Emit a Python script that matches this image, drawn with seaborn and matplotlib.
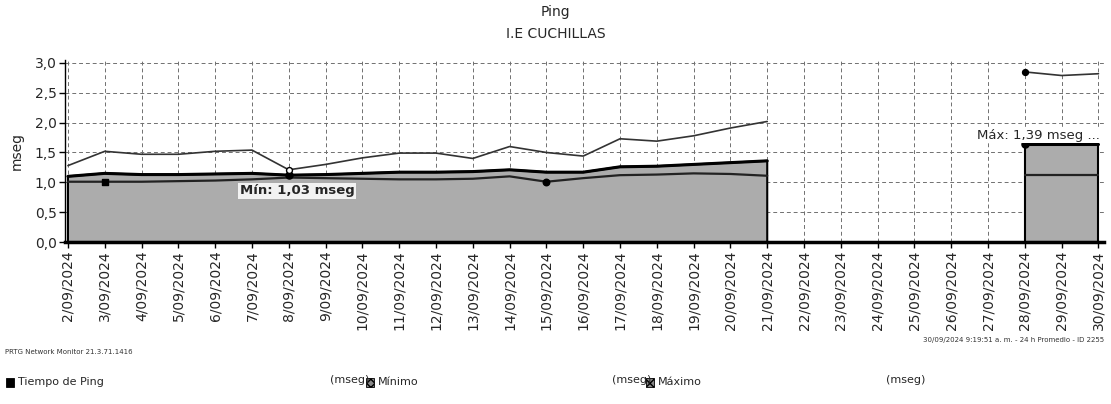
import matplotlib
matplotlib.use("Agg")
import matplotlib.pyplot as plt
from matplotlib.patches import Rectangle
import numpy as np
import pandas as pd
import seaborn as sns

# Data (PRTG "Ping" report, daily averages)
dates = [f"{d}/09/2024" for d in range(2, 31)]
nan = np.nan
maximo = [1.28, 1.52, 1.47, 1.47, 1.52, 1.54, 1.21, 1.30, 1.41, 1.49,
          1.49, 1.40, 1.60, 1.50, 1.44, 1.73, 1.69, 1.78, 1.91, 2.02,
          nan, nan, nan, nan, nan, nan, 2.85, 2.79, 2.82]
ping = [1.10, 1.15, 1.13, 1.13, 1.14, 1.15, 1.12, 1.13, 1.15, 1.17,
        1.17, 1.18, 1.21, 1.17, 1.17, 1.26, 1.27, 1.30, 1.33, 1.36,
        nan, nan, nan, nan, nan, nan, 1.64, 1.64, 1.64]
minimo = [1.01, 1.01, 1.01, 1.02, 1.03, 1.05, 1.08, 1.07, 1.06, 1.05,
          1.05, 1.06, 1.10, 1.01, 1.07, 1.12, 1.13, 1.15, 1.14, 1.11,
          nan, nan, nan, nan, nan, nan, 1.13, 1.13, 1.13]
segment = [0] * 20 + [1] * 6 + [2] * 3

y_ticks = [0.0, 0.5, 1.0, 1.5, 2.0, 2.5, 3.0]
min_label = "Mín: 1,03 mseg"
max_label = "Máx: 1,39 mseg ..."

df = pd.DataFrame({
    "x": np.arange(len(dates)),
    "maximo": maximo,
    "ping": ping,
    "minimo": minimo,
    "seg": segment,
}).dropna()

sns.set_theme(style="white")
plt.rcParams["font.family"] = ["DejaVu Sans"]

W, H = 1111, 404
fig = plt.figure(figsize=(W / 100, H / 100), dpi=100)
ax = fig.add_axes([65 / W, (H - 242) / H, (1104 - 65) / W, 182 / H])

# shaded "Tiempo de Ping" area with black outline
x_all = np.arange(len(dates))
ax.fill_between(x_all, 0, np.array(ping, dtype=float), facecolor="#acacac",
                edgecolor="black", linewidth=1.5, zorder=2)

sns.lineplot(data=df, x="x", y="ping", units="seg", estimator=None,
             color="black", linewidth=2.2, ax=ax, zorder=3)
sns.lineplot(data=df, x="x", y="minimo", units="seg", estimator=None,
             color="#222222", linewidth=1.6, ax=ax, zorder=3)
sns.lineplot(data=df, x="x", y="maximo", units="seg", estimator=None,
             color="#333333", linewidth=1.2, ax=ax, zorder=3)

# markers
ax.scatter([1], [minimo[1]], marker="s", s=14, color="black", zorder=4)
ax.scatter([13], [minimo[13]], marker="o", s=22, color="black", zorder=4)
ax.scatter([6], [ping[6]], marker="o", s=26, color="black", zorder=4)
ax.scatter([6], [maximo[6]], marker="o", s=18, facecolor="white",
           edgecolor="black", zorder=4)
ax.scatter([26], [ping[26]], marker="o", s=26, color="black", zorder=4)
ax.scatter([26], [maximo[26]], marker="o", s=18, color="black", zorder=4)

ax.text(4.67, 0.86, min_label, fontsize=9.5, fontweight="bold", va="center",
        ha="left", zorder=5,
        bbox=dict(facecolor="white", edgecolor="none", pad=1.0, alpha=0.85))
ax.text(24.7, 1.79, max_label, fontsize=9.5, va="center", ha="left",
        zorder=5, bbox=dict(facecolor="white", edgecolor="none", pad=1.0))

ax.set_xlim(-0.08, 28.15)
ax.set_ylim(0, 3.05)
ax.set_xticks(x_all)
ax.set_xticklabels(dates, rotation=90, fontsize=10)
ax.set_yticks(y_ticks)
ax.set_yticklabels([f"{v:.1f}".replace(".", ",") for v in y_ticks],
                   fontsize=10)
ax.tick_params(axis="both", length=4, width=1, color="black", pad=2,
               bottom=True, left=True)
ax.set_xlabel("")
ax.set_ylabel("mseg", fontsize=10, labelpad=8)

ax.grid(True, linestyle=(0, (4, 3)), color="#707070", linewidth=0.7)
ax.set_axisbelow(True)
for side in ["top", "right"]:
    ax.spines[side].set_visible(False)
ax.spines["left"].set_color("black")
ax.spines["left"].set_linewidth(1.0)
ax.spines["bottom"].set_color("black")
ax.spines["bottom"].set_linewidth(2.5)

# titles
fig.text(0.5, 1 - 12 / H, "Ping", ha="center", va="center", fontsize=10)
fig.text(0.5, 1 - 34 / H, "I.E CUCHILLAS", ha="center", va="center",
         fontsize=10)

# footer
fig.text(5 / W, 1 - 352 / H, "PRTG Network Monitor 21.3.71.1416",
         fontsize=5, va="center", color="#333333")
fig.text(1104 / W, 1 - 340 / H,
         "30/09/2024 9:19:51 a. m. - 24 h Promedio - ID 2255",
         fontsize=5, va="center", ha="right", color="#333333")

# legend row
legend_items = [
    (6, "Tiempo de Ping", "black", None, 330),
    (366, "Mínimo", "#888888", "xxxx", 612),
    (646, "Máximo", "#888888", "xxxx", 886),
]
for x0, name, col, hatch, unit_x in legend_items:
    fig.patches.append(Rectangle((x0 / W, 1 - 387 / H), 8 / W, 9 / H,
                                 transform=fig.transFigure, facecolor=col,
                                 edgecolor="black", hatch=hatch,
                                 linewidth=0.6))
    fig.text((x0 + 12) / W, 1 - 382 / H, name, fontsize=8, va="center")
    fig.text(unit_x / W, 1 - 380 / H, "(mseg)", fontsize=8, va="center")

fig.savefig("out.png", dpi=100)
